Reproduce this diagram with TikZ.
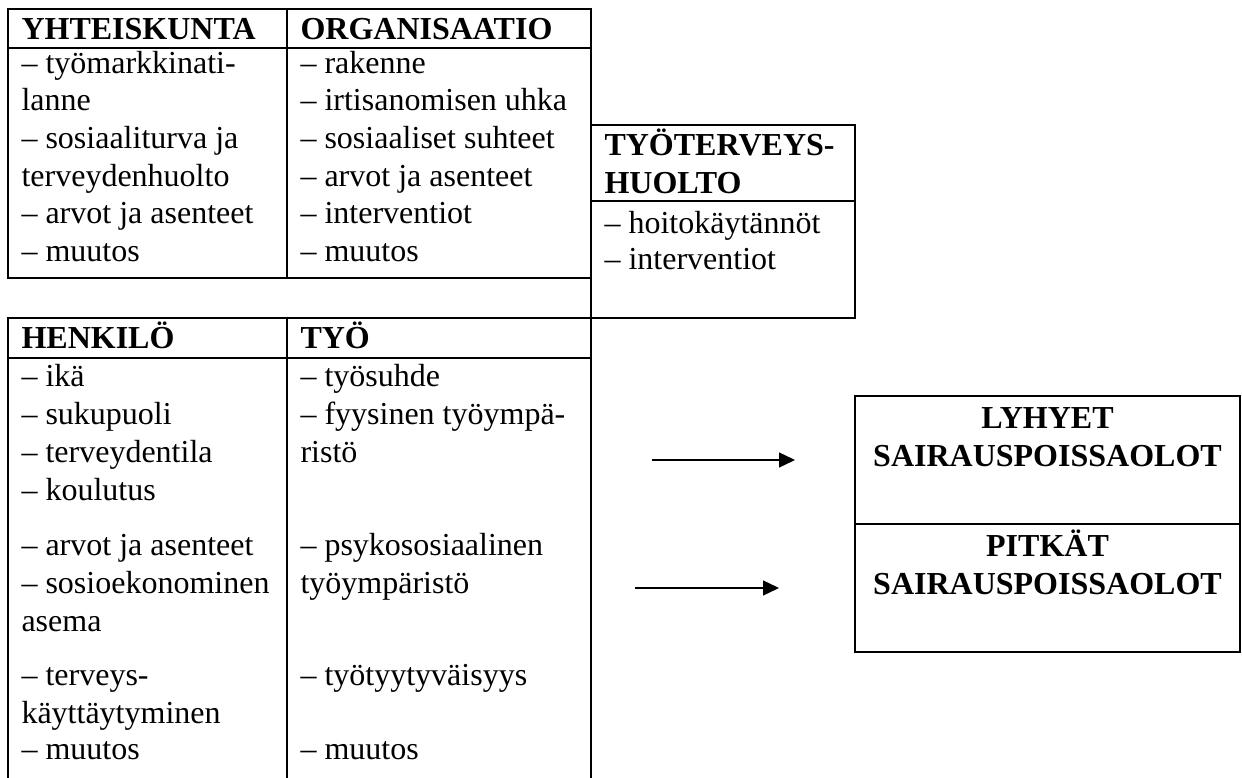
\documentclass[tikz,border=0pt]{standalone}
\usepackage{fontspec}
\setmainfont{Liberation Serif}
\usetikzlibrary{arrows.meta}
\begin{document}
\begin{tikzpicture}[x=0.375pt,y=-0.375pt,
  txt/.style={anchor=base west,inner sep=0pt,font=\fontsize{12}{14}\selectfont},
  hd/.style={anchor=base west,inner sep=0pt,font=\fontsize{12}{14}\selectfont\bfseries},
  ctr/.style={anchor=base,inner sep=0pt,font=\fontsize{12}{14}\selectfont\bfseries},
  frame/.style={line width=0.75pt},
  arr/.style={line width=0.6pt,-{Triangle[length=6pt,width=5.6pt]}}]
\useasboundingbox (0,0) rectangle (1242,778);
\clip (0,0) rectangle (1242,778);
% ---- frames ----
\draw[frame] (8,9) rectangle (591,278);
\draw[frame] (8,48) -- (591,48);
\draw[frame] (287,9) -- (287,278);
\draw[frame] (591,278) -- (591,780);
\draw[frame] (8,780) -- (8,318) -- (855,318);
\draw[frame] (8,358) -- (591,358);
\draw[frame] (287,318) -- (287,780);
\draw[frame] (591,125) rectangle (855,318);
\draw[frame] (591,201) -- (855,201);
\draw[frame] (855,396) rectangle (1240,652);
\draw[frame] (855,524) -- (1240,524);
% ---- YHTEISKUNTA ----
\node[hd]  (yh)  at (21,39)    {YHTEISKUNTA};
\node[txt] (yh1) at (21,73)    {– työmarkkinati-};
\node[txt] (yh2) at (21,110.7) {lanne};
\node[txt] (yh3) at (21,148.4) {– sosiaaliturva ja};
\node[txt] (yh4) at (21,186)   {terveydenhuolto};
\node[txt] (yh5) at (21,223.8) {– arvot ja asenteet};
\node[txt] (yh6) at (21,261.5) {– muutos};
% ---- ORGANISAATIO ----
\node[hd]  (or)  at (300,39)    {ORGANISAATIO};
\node[txt] (or1) at (300,73)    {– rakenne};
\node[txt] (or2) at (300,110.7) {– irtisanomisen uhka};
\node[txt] (or3) at (300,148.4) {– sosiaaliset suhteet};
\node[txt] (or4) at (300,186)   {– arvot ja asenteet};
\node[txt] (or5) at (300,223.8) {– interventiot};
\node[txt] (or6) at (300,261.5) {– muutos};
% ---- TYÖTERVEYSHUOLTO ----
\node[hd]  (th1) at (604,155) {TYÖTERVEYS-};
\node[hd]  (th2) at (604,193) {HUOLTO};
\node[txt] (th3) at (604,233) {– hoitokäytännöt};
\node[txt] (th4) at (604,269) {– interventiot};
% ---- HENKILÖ ----
\node[hd]  (he)   at (21,348) {HENKILÖ};
\node[txt] (he1)  at (21,386) {– ikä};
\node[txt] (he2)  at (21,424) {– sukupuoli};
\node[txt] (he3)  at (21,462) {– terveydentila};
\node[txt] (he4)  at (21,500) {– koulutus};
\node[txt] (he5)  at (21,555) {– arvot ja asenteet};
\node[txt] (he6)  at (21,593) {– sosioekonominen};
\node[txt] (he7)  at (21,631) {asema};
\node[txt] (he8)  at (21,685) {– terveys-};
\node[txt] (he9)  at (21,723) {käyttäytyminen};
\node[txt] (he10) at (21,759) {– muutos};
% ---- TYÖ ----
\node[hd]  (ty)  at (300,348) {TYÖ};
\node[txt] (ty1) at (300,386) {– työsuhde};
\node[txt] (ty2) at (300,424) {– fyysinen työympä-};
\node[txt] (ty3) at (300,462) {ristö};
\node[txt] (ty4) at (300,555) {– psykososiaalinen};
\node[txt] (ty5) at (300,593) {työympäristö};
\node[txt] (ty6) at (300,685) {– työtyytyväisyys};
\node[txt] (ty7) at (300,759) {– muutos};
% ---- SAIRAUSPOISSAOLOT ----
\node[ctr] (ly1) at (1047.5,428) {LYHYET};
\node[ctr] (ly2) at (1047.5,466) {SAIRAUSPOISSAOLOT};
\node[ctr] (pi1) at (1047.5,556) {PITKÄT};
\node[ctr] (pi2) at (1047.5,594) {SAIRAUSPOISSAOLOT};
% ---- arrows ----
\coordinate (a1s) at (652,460);
\coordinate (a1e) at (795,460);
\coordinate (a2s) at (635,588);
\coordinate (a2e) at (779,588);
\draw[arr] (a1s) -- (a1e);
\draw[arr] (a2s) -- (a2e);
\end{tikzpicture}
\end{document}
